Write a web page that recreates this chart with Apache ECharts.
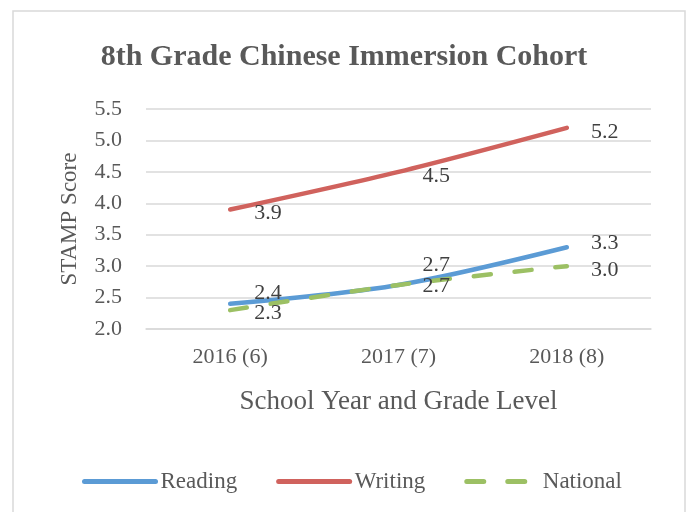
<!DOCTYPE html>
<html>
<head>
<meta charset="utf-8">
<script src="https://cdn.jsdelivr.net/npm/echarts@6/dist/echarts.min.js"></script>
<style>
  html, body { margin: 0; padding: 0; background: #fff; }
  #chart { width: 688px; height: 512px; }
</style>
</head>
<body>
<div id="chart"></div>
<script>
  // data
  var years = ['2016 (6)', '2017 (7)', '2018 (8)'];
  var reading = [2.4, 2.7, 3.3];
  var writing = [3.9, 4.5, 5.2];
  var national = [2.3, 2.7, 3.0];
  // vertical nudge of each value label (px)
  var readingDy = [-11, -20, -4];
  var writingDy = [4, 4, 4];
  var nationalDy = [3, 1, 4];

  var serif = '"Liberation Serif", "DejaVu Serif", serif';

  function withLabels(values, dys) {
    return values.map(function (v, i) {
      return { value: v, label: { offset: [0, dys[i]] } };
    });
  }

  function lineSeries(name, values, dys, color, type) {
    return {
      name: name,
      type: 'line',
      smooth: 0.3,
      symbol: 'circle',
      symbolSize: 0.1,
      data: withLabels(values, dys),
      lineStyle: { color: color, width: 4.5, type: type || 'solid', cap: 'round' },
      itemStyle: { color: color },
      label: {
        show: true,
        position: 'right',
        distance: 24,
        fontFamily: serif,
        fontSize: 22,
        color: '#404040',
        formatter: function (p) { return p.value.toFixed(1); }
      }
    };
  }

  var chart = echarts.init(document.getElementById('chart'));
  chart.setOption({
    animation: false,
    textStyle: { fontFamily: serif },
    title: {
      text: '8th Grade Chinese Immersion Cohort',
      left: 'center',
      top: 37,
      textStyle: { fontFamily: serif, fontSize: 30, fontWeight: 'bold', color: '#595959' }
    },
    graphic: [{
      type: 'rect',
      shape: { x: 13, y: 11, width: 672, height: 520 },
      style: { fill: 'none', stroke: '#d9d9d9', lineWidth: 1.5 },
      silent: true
    }],
    grid: { left: 146, right: 37, top: 109, bottom: 183 },
    legend: {
      bottom: 14,
      left: 77,
      itemWidth: 71,
      itemHeight: 6,
      itemGap: 39,
      itemStyle: { opacity: 0 },
      lineStyle: { width: 5, cap: 'round' },
      textStyle: { fontFamily: serif, fontSize: 23, color: '#595959' },
      data: ['Reading', 'Writing', 'National']
    },
    xAxis: {
      type: 'category',
      data: years,
      boundaryGap: true,
      axisLine: { show: true, lineStyle: { color: '#d9d9d9', width: 1.5 } },
      axisTick: { show: false },
      axisLabel: { fontFamily: serif, fontSize: 22, color: '#595959', margin: 17 },
      name: 'School Year and Grade Level',
      nameLocation: 'middle',
      nameGap: 59,
      nameTextStyle: { fontFamily: serif, fontSize: 27, color: '#595959' }
    },
    yAxis: {
      type: 'value',
      min: 2,
      max: 5.5,
      interval: 0.5,
      axisLine: { show: false },
      axisTick: { show: false },
      splitLine: { lineStyle: { color: '#d9d9d9', width: 1.5 } },
      axisLabel: {
        fontFamily: serif, fontSize: 22, color: '#595959', margin: 24,
        formatter: function (v) { return v.toFixed(1); }
      },
      name: 'STAMP Score',
      nameLocation: 'middle',
      nameGap: 65,
      nameTextStyle: { fontFamily: serif, fontSize: 23, color: '#595959' }
    },
    series: [
      lineSeries('Reading', reading, readingDy, '#5B9BD5'),
      lineSeries('Writing', writing, writingDy, '#D0625D'),
      lineSeries('National', national, nationalDy, '#9CC064', [17, 24])
    ]
  });
</script>
</body>
</html>
